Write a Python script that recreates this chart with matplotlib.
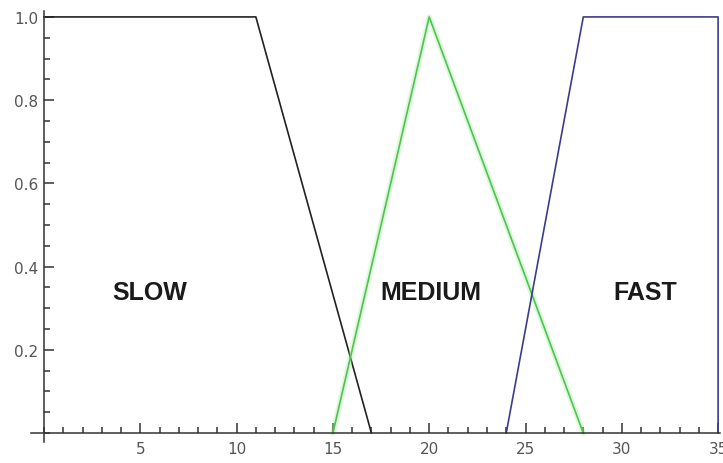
import matplotlib.pyplot as plt
from matplotlib.ticker import MultipleLocator

# membership functions (speed)
slow_x = [0, 11, 17]
slow_y = [1, 1, 0]
medium_x = [15, 20, 28]
medium_y = [0, 1, 0]
fast_x = [24, 28, 35, 35]
fast_y = [0, 1, 1, 0]

labels = ["SLOW", "MEDIUM", "FAST"]
label_x = [5.5, 20.1, 31.2]
label_y = [0.34, 0.34, 0.34]

xticks = [5, 10, 15, 20, 25, 30, 35]
yticks = [0.2, 0.4, 0.6, 0.8, 1.0]

fig = plt.figure(figsize=(7.23, 4.64), dpi=100)
ax = fig.add_axes([0.0422, 0.0448, 0.9537, 0.930])

ax.plot(slow_x, slow_y, color="#222222", lw=1.2)
# soft glow under the green line
ax.plot(medium_x, medium_y, color="#9df09d", lw=4, alpha=0.35, solid_capstyle="round")
ax.plot(medium_x, medium_y, color="#4fc24f", lw=1.2)
ax.plot(fast_x, fast_y, color="#3b3b8f", lw=1.2)

for t, x, y in zip(labels, label_x, label_y):
    ax.text(x, y, t, ha="center", va="center", fontsize=18, fontweight="bold",
            family="Liberation Sans", color="#1a1a1a")

ax.set_xlim(-0.7, 35.1)
ax.set_ylim(-0.022, 1.015)

for s in ["top", "right"]:
    ax.spines[s].set_visible(False)
for s in ["left", "bottom"]:
    ax.spines[s].set_position(("data", 0))
    ax.spines[s].set_color("#333333")
    ax.spines[s].set_linewidth(1.1)

ax.set_xticks(xticks)
ax.set_yticks(yticks)
ax.set_yticklabels([f"{v:.1f}" for v in yticks])
ax.xaxis.set_minor_locator(MultipleLocator(1))
ax.yaxis.set_minor_locator(MultipleLocator(0.05))
ax.tick_params(which="both", direction="in", color="#333333", width=1.1,
               labelsize=11, labelcolor="#555555")
ax.tick_params(which="major", length=7)
ax.tick_params(which="minor", length=4)
ax.tick_params(axis="x", which="major", pad=6)
ax.tick_params(axis="y", which="major", pad=4)

fig.savefig("out.png", dpi=100)
